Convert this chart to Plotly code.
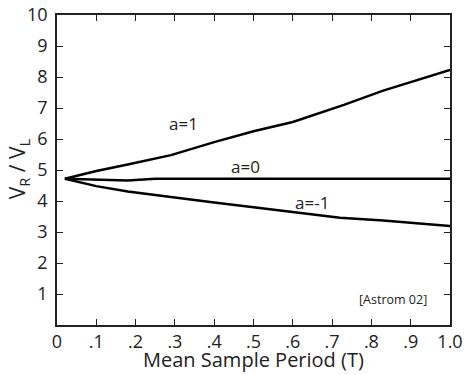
import plotly.graph_objects as go

x_a1 = [0.02, 0.1, 0.18, 0.29, 0.4, 0.5, 0.6, 0.73, 0.83, 1.0]
y_a1 = [4.72, 4.97, 5.18, 5.48, 5.9, 6.25, 6.55, 7.1, 7.56, 8.23]

x_a0 = [0.02, 0.18, 0.25, 1.0]
y_a0 = [4.72, 4.66, 4.72, 4.72]

x_am1 = [0.02, 0.1, 0.18, 0.29, 0.4, 0.5, 0.6, 0.72, 0.83, 1.0]
y_am1 = [4.72, 4.48, 4.31, 4.12, 3.95, 3.8, 3.64, 3.46, 3.37, 3.19]

x_ticks = [0, 0.1, 0.2, 0.3, 0.4, 0.5, 0.6, 0.7, 0.8, 0.9, 1.0]
x_labels = ["0", ".1", ".2", ".3", ".4", ".5", ".6", ".7", ".8", ".9", "1.0"]
y_ticks = [1, 2, 3, 4, 5, 6, 7, 8, 9, 10]

x_title = "Mean Sample Period (T)"
y_title = "V<sub>R</sub> / V<sub>L</sub>"

font = "Open Sans"
ink = "#222"
fig = go.Figure()
for xs, ys in [(x_a1, y_a1), (x_a0, y_a0), (x_am1, y_am1)]:
    fig.add_trace(go.Scatter(x=xs, y=ys, mode="lines",
                             line=dict(color="black", width=2.5), showlegend=False))

ann = [("a=1", 0.321, 6.5, 17), ("a=0", 0.479, 5.1, 17), ("a=-1", 0.648, 3.94, 17),
       ("[Astrom 02]", 0.854, 0.83, 12.5)]
for t, ax, ay, s in ann:
    fig.add_annotation(x=ax, y=ay, text=t, showarrow=False,
                       font=dict(family=font, size=s, color=ink))

# axis titles placed in paper coordinates
fig.add_annotation(xref="paper", yref="paper", x=0.5, y=-0.161, text=x_title,
                   showarrow=False, xanchor="center", yanchor="bottom",
                   font=dict(family=font, size=20, color=ink))
fig.add_annotation(xref="paper", yref="paper", x=-0.097, y=0.505, text=y_title,
                   showarrow=False, textangle=-90, xanchor="center", yanchor="middle",
                   font=dict(family=font, size=21, color=ink))

axis_common = dict(showline=True, linecolor=ink, linewidth=1.5, mirror="ticks",
                   ticks="inside", ticklen=6, tickcolor=ink, tickwidth=1.2,
                   showgrid=False, zeroline=False, automargin=False,
                   tickfont=dict(family=font, size=18, color=ink))
fig.update_xaxes(range=[0, 1.0], tickvals=x_ticks, ticktext=x_labels,
                 ticklabelstandoff=0, **axis_common)
fig.update_yaxes(range=[0, 10], tickvals=y_ticks, ticklabelstandoff=4,
                 **axis_common)
fig.update_layout(width=465, height=375, margin=dict(l=57, r=15, t=15, b=50),
                  plot_bgcolor="white", paper_bgcolor="white")
fig.write_html("out.html", config={"displayModeBar": False},
               post_script="document.body.style.margin='0';")
